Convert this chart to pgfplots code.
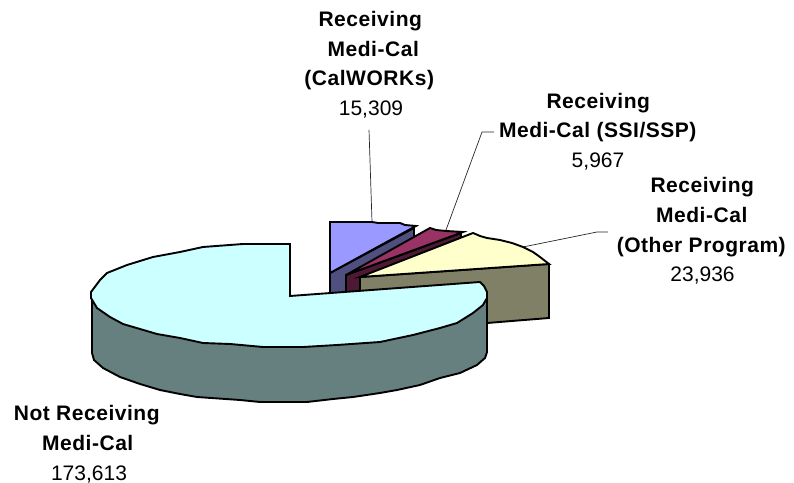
\documentclass[border=0pt]{standalone}
\usepackage{fontspec}
\setmainfont{Liberation Sans}[BoldFeatures={LetterSpace=2.5}]
\usepackage{pgfplots}
\pgfplotsset{compat=1.18}
\definecolor{peri}{HTML}{9999FF}\definecolor{periS}{HTML}{4F4F80}
\definecolor{mar}{HTML}{993366}\definecolor{marS}{HTML}{4D1933}
\definecolor{yel}{HTML}{FFFFCC}\definecolor{yelS}{HTML}{808066}
\definecolor{cya}{HTML}{CCFFFF}\definecolor{cyaS}{HTML}{668080}
\newcommand{\lb}[3]{\node[anchor=base,inner sep=0pt,font=\fontsize{21bp}{21bp}\selectfont] at (axis cs:#1,#2) {#3};}
\begin{document}
\begin{tikzpicture}[x=1bp,y=1bp]
\useasboundingbox (0,0) rectangle (794,483);
\begin{axis}[at={(0,0)},anchor=south west,scale only axis,width=794bp,height=483bp,
  xmin=0,xmax=794,ymin=0,ymax=483,y dir=reverse,hide axis,clip=false,
  every axis plot/.append style={line width=1.9bp,line join=miter,black}]
% leader lines
\addplot[line width=0.7bp,black!85,no marks] coordinates {(369,130)(372,222)};
\addplot[line width=0.7bp,black!85,no marks] coordinates {(494,132)(482,132)(446,230)};
\addplot[line width=0.7bp,black!85,no marks] coordinates {(608,232)(597,232)(523,247)};
% CalWORKs
\addplot[fill=periS,draw=black] coordinates {(330,273)(414,228)(414,238)(346,276)(346,294)(330,294)} -- cycle;
\addplot[fill=peri,draw=black] coordinates {(330,222)(372,222)(378,223)(400,223)(405,225)(416,226)(330,273)} -- cycle;
% SSI/SSP
\addplot[fill=marS,draw=black] coordinates {(346,275)(461,233)(461,238)(360,278)(360,294)(346,294)} -- cycle;
\addplot[fill=mar,draw=black] coordinates {(346,275)(430,228)(436,230)(446,231)(463,232)} -- cycle;
% Other
\addplot[fill=yelS,draw=black] coordinates {(360,277)(549,264)(549,318)(487,323)(360,330)} -- cycle;
\addplot[fill=yel,draw=black] coordinates {(360,277)(473,233)(480,236)(487,238)(500,240)(512,243)(523,247)(533,252)(540,257)(549,264)} -- cycle;
% Not receiving
\addplot[fill=cyaS,draw=black] coordinates {(92,297)(92,353)(94,360)(103,368)(120,377)(140,384)(160,390)(180,394)(197,397)(240,400)(260,402)(307,402)(333,399)(353,397)(380,393)(397,390)(420,385)(440,378)(460,373)(477,365)(485,358)(487,352)(487,298)} -- cycle;
\addplot[fill=cya,draw=black] coordinates {(280,244)(290,244)(290,296)(480,282)(484,286)(487,292)(487,298)(483,305)(473,313)(457,323)(440,328)(413,335)(380,342)(337,345)(303,347)(263,347)(230,344)(203,343)(180,338)(157,334)(123,324)(110,317)(97,308)(91,298)(91,292)(100,280)(107,273)(127,265)(153,257)(180,252)(203,247)(243,244)} -- cycle;
% labels
\lb{370.5}{27}{\textbf{Receiving}}
\lb{373.5}{57}{\textbf{Medi-Cal}}
\lb{369.5}{86}{\textbf{(CalWORKs)}}
\lb{371}{116}{15,309}
\lb{598.5}{109}{\textbf{Receiving}}
\lb{598}{138}{\textbf{Medi-Cal (SSI/SSP)}}
\lb{598}{168}{5,967}
\lb{702.5}{193}{\textbf{Receiving}}
\lb{702}{223}{\textbf{Medi-Cal}}
\lb{701.5}{253}{\textbf{\addfontfeature{LetterSpace=6}(Other Program)}}
\lb{702.5}{282}{23,936}
\lb{87}{420}{\textbf{Not Receiving}}
\lb{88}{450}{\textbf{Medi-Cal}}
\lb{89}{480}{173,613}
\end{axis}
\end{tikzpicture}
\end{document}
